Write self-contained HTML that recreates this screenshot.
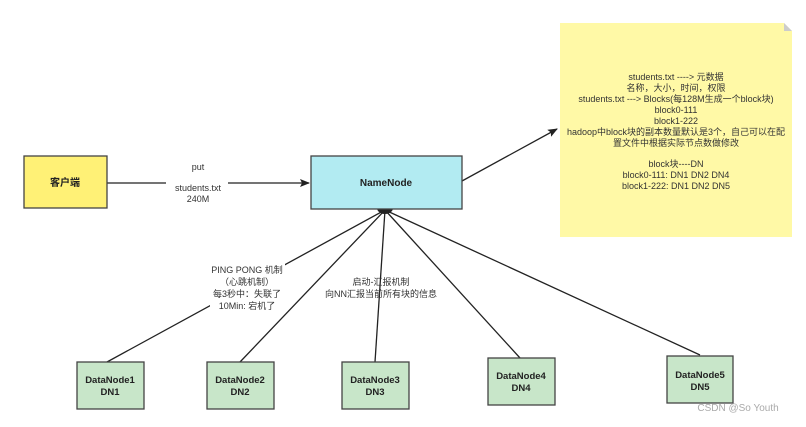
<!DOCTYPE html>
<html><head><meta charset="utf-8"><style>
body{margin:0;background:#fff;}
svg text{font-family:"Liberation Sans","Noto Sans CJK SC",sans-serif;}
</style></head><body>
<svg width="806" height="422" viewBox="0 0 806 422" xmlns="http://www.w3.org/2000/svg">
<defs><marker id="a" markerWidth="10" markerHeight="8" refX="9" refY="4" orient="auto" markerUnits="userSpaceOnUse"><path d="M0,0 L10,4 L0,8 L2,4z" fill="#222"/></marker></defs>
<g stroke="#222" stroke-width="1.3" fill="none">
<line x1="385" y1="210" x2="107" y2="362"/>
<line x1="385" y1="210" x2="240" y2="362"/>
<line x1="385" y1="210" x2="375" y2="362"/>
<line x1="385" y1="210" x2="520" y2="358"/>
<line x1="385" y1="210" x2="700" y2="355"/>
<line x1="107" y1="183" x2="309" y2="183" marker-end="url(#a)"/>
<line x1="462" y1="181" x2="557" y2="129" marker-end="url(#a)"/>
</g>
<path d="M377 208 A8 6 0 0 0 393 208 Z" fill="#222"/>
<rect x="24" y="156" width="83" height="52" fill="#fff176" stroke="#444" stroke-width="1.3"/>
<text x="65" y="186" font-size="10" font-weight="bold" text-anchor="middle" fill="#222">客户端</text>
<rect x="311" y="156" width="151" height="53" fill="#b2ebf2" stroke="#444" stroke-width="1.3"/>
<text x="386" y="186" font-size="10" font-weight="bold" text-anchor="middle" fill="#222">NameNode</text>
<rect x="166" y="179" width="62" height="24" fill="#fff"/>
<g font-size="9" fill="#333" text-anchor="middle">
<text x="198" y="170">put</text>
<text x="198" y="191">students.txt</text>
<text x="198" y="202">240M</text>
</g>
<path d="M560 23 H784 L792 31 V237 H560 Z" fill="#fff9a6"/>
<path d="M784 23 L792 31 H784 Z" fill="#ccc"/>
<g font-size="9" fill="#333" text-anchor="middle">
<text x="676" y="80">students.txt ----&gt; 元数据</text>
<text x="676" y="91">名称，大小，时间，权限</text>
<text x="676" y="102">students.txt ---&gt; Blocks(每128M生成一个block块)</text>
<text x="676" y="113">block0-111</text>
<text x="676" y="124">block1-222</text>
<text x="676" y="135">hadoop中block块的副本数量默认是3个，自己可以在配</text>
<text x="676" y="146">置文件中根据实际节点数做修改</text>
<text x="676" y="167">block块----DN</text>
<text x="676" y="178">block0-111: DN1 DN2 DN4</text>
<text x="676" y="189">block1-222: DN1 DN2 DN5</text>
</g>
<rect x="210" y="262" width="75" height="48" fill="#fff"/>
<g font-size="9" fill="#333" text-anchor="middle">
<text x="247" y="273">PING PONG 机制</text>
<text x="247" y="285">（心跳机制）</text>
<text x="247" y="297">每3秒中：失联了</text>
<text x="247" y="309">10Min: 宕机了</text>
<text x="381" y="285">启动-汇报机制</text>
<text x="381" y="297">向NN汇报当前所有块的信息</text>
</g>
<g fill="#c8e6c9" stroke="#444" stroke-width="1.3">
<rect x="77" y="362" width="67" height="47"/>
<rect x="207" y="362" width="67" height="47"/>
<rect x="342" y="362" width="67" height="47"/>
<rect x="488" y="358" width="67" height="47"/>
<rect x="667" y="356" width="66" height="47"/>
</g>
<g font-size="9.5" font-weight="bold" fill="#222" text-anchor="middle">
<text x="110" y="383">DataNode1</text><text x="110" y="395">DN1</text>
<text x="240" y="383">DataNode2</text><text x="240" y="395">DN2</text>
<text x="375" y="383">DataNode3</text><text x="375" y="395">DN3</text>
<text x="521" y="379">DataNode4</text><text x="521" y="391">DN4</text>
<text x="700" y="378">DataNode5</text><text x="700" y="390">DN5</text>
</g>
<text x="738" y="411" font-size="10" fill="#aaa" text-anchor="middle">CSDN @So Youth</text>
</svg>
</body></html>
